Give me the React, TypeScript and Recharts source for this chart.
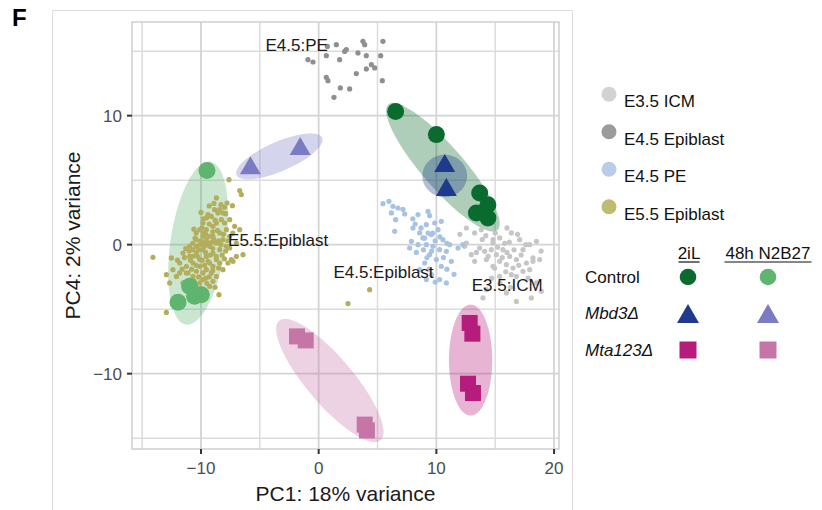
import * as RC from "recharts";
import { ScatterChart, Scatter, XAxis, YAxis, CartesianGrid, ReferenceArea, Label } from "recharts";

const FONT = '"Liberation Sans", Arial, sans-serif';

const X_DOMAIN: [number, number] = [-15.86, 20.42];
const Y_DOMAIN: [number, number] = [-15.84, 17.26];
const xTicks = [-10, 0, 10, 20];
const yTicks = [-10, 0, 10];
const xMinor = [-15, -5, 5, 15];
const yMinor = [-15, -5, 5, 15];

// embryo reference cells (small dots)
const icmE35 = [
  [12.55, 1.29], [13.25, 0.91], [13.82, 1.16], [14.53, 1.29], [14.81, 0.13], [15.38, 0.52],
  [16.37, 0.91], [17.08, 0.39], [17.93, 0], [18.5, 0.26], [13.68, -0.26], [14.1, -0.52],
  [14.67, -0.39], [15.1, -0.78], [15.66, -0.39], [16.23, -0.91], [16.8, -1.16], [17.65, -1.42],
  [18.21, -1.03], [14.25, -1.16], [15.38, -1.29], [15.95, -1.55], [16.51, -1.81], [17.36, -2.07],
  [13.25, -1.29], [12.97, -0.78], [12.4, -0.13], [14.95, -1.81], [16.8, -2.46], [12.55, 0.13],
  [14.81, 0.39], [17.93, -1.94], [18.5, -2.97], [18.92, -3.62], [16.8, -4.4], [18.07, -4.13],
  [13.96, -4.13], [14.25, -3.49], [15.95, -3.74], [18.21, -1.29], [18.78, -1.16], [17.36, -0.39],
  [16.37, -2.33], [15.38, -2.46], [14.81, -1.68], [15.8, 0.1], [16.0, -0.6], [15.2, -0.2],
  [16.6, -0.4], [14.4, -0.9], [17.2, -0.8], [15.6, -1.0], [16.9, 0.8], [13.9, 0.4], [12.0, 0.8],
  [15.0, 0.9], [16.2, 0.2], [17.6, 0.0], [17.0, -1.6], [15.4, -3.0], [16.3, -3.3], [14.2, 0.7],
  [13.4, -0.6], [15.9, -2.1], [17.8, -2.6], [18.9, -0.5], [14.7, -2.6], [16.0, 1.3],
];
const epiE45 = [
  [0.74, 15.37], [1.5, 15.5], [2.35, 15.12], [3.76, 15.76], [5.46, 15.76], [-0.91, 14.34],
  [-0.48, 14.16], [0.65, 14.65], [1.78, 14.34], [2.21, 14.98], [3.34, 14.86], [4.05, 14.65],
  [5.27, 14.65], [3.91, 15.5], [3.2, 13.26], [4.05, 13.62], [4.48, 13.95], [4.76, 13.7],
  [5.41, 12.71], [0.65, 12.97], [0.79, 12.71], [1.84, 12.15], [2.63, 12.07], [1.3, 11.42],
];
const peE45 = [
  [5.46, 3.18], [5.97, 3.36], [6.31, 2.97], [6.74, 2.84], [7.16, 2.74], [6.18, 2.46], [6.54, 1.94],
  [7.31, 2.38], [8.44, 2.33], [9.29, 2.58], [9.43, 2.25], [9.15, 1.55], [8.01, 1.29], [6.46, 1.03],
  [8.58, 0.91], [8.86, 0.52], [9.58, 0.78], [10.14, 1.16], [10.56, 0.39], [7.88, 0.26], [8.44, 0],
  [9.15, 0], [9.71, -0.13], [10.28, -0.39], [10.85, -0.52], [9.43, -0.78], [10.0, -1.16],
  [9.01, -1.42], [8.58, -1.94], [10.42, -1.68], [11.27, -1.29], [9.58, -2.33], [10.28, -2.71],
  [10.85, -2.97], [9.15, -2.71], [11.84, -0.26], [12.26, 0], [11.13, 0], [7.73, -0.26],
  [9.86, 1.68], [10.42, 1.81], [8.9, -0.4], [9.9, 0.3], [10.6, -1.0], [9.2, -1.0], [9.7, 0.9],
  [8.2, 1.6], [10.3, 0.6], [9.4, -1.9], [10.9, -1.9], [8.0, 2.0], [9.0, 0.5], [8.3, -0.6],
  [9.6, -0.5], [10.9, 0.1], [9.3, 0.9], [8.7, 1.3], [11.5, -2.3], [9.9, -2.9],
];
const epiE55 = [
  [-7.62, 5.04], [-6.71, 4.19], [-6.57, 3.88], [-7.79, 3.23], [-7.33, 3.02], [-8.69, 3.62],
  [-8.41, 2.71], [-8.13, 2.46], [-7.56, 1.94], [-7.14, 1.42], [-6.71, 1.16], [-6.43, -0.78],
  [-6.99, -0.91], [-7.42, -1.16], [-14.08, -0.98], [-12.94, -5.25], [-12.51, -1.03],
  [-12.94, -2.33], [-12.38, -1.94], [-11.81, -1.42], [-11.53, -0.65], [-10.96, -0.13],
  [-10.39, 0.39], [-10.11, 1.16], [-9.83, 1.68], [-9.54, 2.07], [-9.41, 2.33], [-9.12, 2.19],
  [-8.84, 2.71], [-8.56, 2.46], [-8.27, 1.94], [-7.99, 1.68], [-8.47, -3.88], [-9.26, -3.23],
  [-9.83, -2.71], [-10.68, -2.46], [-11.24, -2.19], [-12.09, -2.46], [-11.53, -2.97],
  [-8.69, -2.46], [-8.13, -1.94], [-7.71, -1.42], [-8.41, -1.42], [-8.98, -1.68], [-9.54, -1.94],
  [-10.11, -1.68], [-10.68, -1.42], [-10.96, -0.91], [-10.39, -0.65], [-9.83, -0.39],
  [-9.26, -0.13], [-8.69, 0.13], [-8.13, 0.39], [-7.56, 0.65], [-7.84, 1.16], [-8.41, 0.91],
  [-8.98, 0.65], [-9.54, 0.39], [-10.11, 0], [-10.68, -0.39], [-8.98, 1.42], [-9.54, 1.16],
  [-8.69, 1.68], [-9.26, 0.65], [-9.83, 0.65], [-10.39, -0.13], [-9.54, -0.91], [-8.98, -0.65],
  [-8.41, -0.39], [-7.84, -0.13], [-10.11, -1.16], [-9.26, -1.42], [-8.69, -1.16],
  [-11.24, -1.68], [-11.81, -2.19], [-10.39, -2.07], [-9.83, -2.19], [-9.12, -2.19],
  [-10.11, -2.97], [-8.98, -2.84], [-12.66, -2.97], [4.33, -3.49], [2.49, -4.57], [-7.28, -1.29],
  [-7.56, -0.26], [-6.99, 0.13], [-9.7, -0.1], [-9.1, 0.2], [-9.9, -1.2], [-9.4, -1.3],
  [-10.3, -0.9], [-8.7, -0.9], [-9.0, 1.0], [-9.6, 0.8], [-10.5, 0.5], [-10.8, -1.9], [-9.3, -2.5],
  [-8.2, -0.8], [-8.6, 1.1], [-9.9, 1.3], [-10.2, -2.5], [-11.0, -2.8], [-8.3, 3.1], [-7.9, 2.4],
  [-11.3, -0.3], [-10.0, 2.5], [-9.3, 3.0], [-10.7, -0.9], [-10.2, -0.4], [-9.6, -0.6],
  [-9.0, -0.3], [-8.5, 0.3], [-8.9, 0.4], [-9.4, 0.1], [-10.0, 0.3], [-10.4, 0.9], [-9.8, 0.1],
  [-9.2, -0.8], [-9.7, -1.6], [-10.4, -1.6], [-10.9, -1.2], [-11.4, -1.0], [-11.1, -2.2],
  [-10.6, -2.8], [-9.6, -2.6], [-9.0, -2.0], [-8.5, -1.8], [-8.0, -1.1], [-7.9, -0.5], [-8.3, 0.0],
  [-8.1, 0.8], [-8.8, 1.9], [-9.3, 1.6], [-9.8, 0.9], [-10.7, 0.1], [-11.0, -0.5], [-11.6, -1.9],
  [-12.0, -1.2], [-10.1, -3.4], [-9.5, -3.0], [-8.8, -3.3], [-7.7, 0.3], [-7.3, 0.9], [-8.0, 2.9],
  [-8.9, 3.2], [-9.8, 2.0], [-10.6, 1.2],
];

// ES cell samples
const control2iL = [[6.54, 10.33], [10.0, 8.53], [13.68, 4.0], [14.38, 3.1], [13.4, 2.45], [14.38, 2.07]];
const control48h = [[-9.49, 5.74], [-10.96, -3.23], [-11.95, -4.47], [-9.97, -3.88], [-10.54, -4.0]];
const mbd3_2iL = [[10.71, 6.33], [10.85, 4.46]];
const mbd3_48h = [[-5.8, 6.15], [-1.57, 7.65]];
const mta123_2iL = [[12.83, -6.07], [13.06, -6.9], [12.69, -10.78], [13.11, -11.5]];
const mta123_48h = [[-1.84, -7.11], [-1.1, -7.42], [3.91, -13.95], [4.1, -14.4]];

// group ellipses: centre, half major axis vector, half minor length (data units)
const ellipses = [
  { group: "control48h", cx: -10.24, cy: 0.12, ux: 1.06, uy: 6.31, b: 2.35 },
  { group: "mbd3_48h", cx: -3.34, cy: 6.84, ux: 3.65, uy: 1.42, b: 1.15 },
  { group: "control2iL", cx: 10.56, cy: 6.0, ux: 4.67, uy: -4.84, b: 1.7 },
  { group: "mbd3_2iL", cx: 10.71, cy: 5.33, ux: 1.9, uy: 0, b: 1.64 },
  { group: "mta123_48h", cx: 0.95, cy: -10.53, ux: 4.35, uy: -4.6, b: 1.9 },
  { group: "mta123_2iL", cx: 12.91, cy: -8.95, ux: 0, uy: 4.3, b: 1.84 },
];

const plotLabels = [
  { x: -1.87, y: 15.43, text: "E4.5:PE" },
  { x: -3.44, y: 0.31, text: "E5.5:Epiblast" },
  { x: 5.51, y: -2.17, text: "E4.5:Epiblast" },
  { x: 16.02, y: -3.18, text: "E3.5:ICM" },
];

const embryoLegend = ["E3.5 ICM", "E4.5 Epiblast", "E4.5 PE", "E5.5 Epiblast"];
const conditionLegend = ["2iL", "48h N2B27"];
const genotypeLegend = ["Control", "Mbd3Δ", "Mta123Δ"];

const colors: Record<string, string> = {
  icm: "#c6c6c6",
  epi45: "#8f8f8f",
  pe: "#a7c3e4",
  epi55: "#b4ae5c",
  control2iL: "#0a6b2e",
  control48h: "#5fb46f",
  mbd3_2iL: "#1f3a8c",
  mbd3_48h: "#7b7bc4",
  mta123_2iL: "#b51c7c",
  mta123_48h: "#c576a6",
};
const legendEmbryoColors = ["#d2d2d2", "#9c9c9c", "#b7cde9", "#c0bb73"];

const toPts = (a: number[][]) => a.map(([x, y]) => ({ x, y }));

const dot = (r: number, fill: string) => (p: any) => <circle cx={p.cx} cy={p.cy} r={r} fill={fill} />;
const tri = (fill: string, w = 21, h = 18) => (p: any) => (
  <polygon
    points={`${p.cx},${p.cy - h / 2} ${p.cx - w / 2},${p.cy + h / 2} ${p.cx + w / 2},${p.cy + h / 2}`}
    fill={fill}
  />
);
const sq = (fill: string, s = 16) => (p: any) => <rect x={p.cx - s / 2} y={p.cy - s / 2} width={s} height={s} fill={fill} />;

function Ellipses() {
  const hook = (RC as any).usePlotArea;
  const area = hook ? hook() : null;
  if (!area) return null;
  const sx = (v: number) => area.x + ((v - X_DOMAIN[0]) / (X_DOMAIN[1] - X_DOMAIN[0])) * area.width;
  const sy = (v: number) => area.y + ((Y_DOMAIN[1] - v) / (Y_DOMAIN[1] - Y_DOMAIN[0])) * area.height;
  return (
    <g>
      {ellipses.map((e) => {
        const len = Math.hypot(e.ux, e.uy);
        const vx = (-e.uy / len) * e.b;
        const vy = (e.ux / len) * e.b;
        let d = "";
        for (let i = 0; i <= 72; i++) {
          const t = (i / 72) * Math.PI * 2;
          const x = e.cx + e.ux * Math.cos(t) + vx * Math.sin(t);
          const y = e.cy + e.uy * Math.cos(t) + vy * Math.sin(t);
          d += `${i === 0 ? "M" : "L"}${sx(x).toFixed(2)},${sy(y).toFixed(2)}`;
        }
        return <path key={e.group} d={d + "Z"} fill={colors[e.group]} fillOpacity={0.33} stroke="none" />;
      })}
    </g>
  );
}

const minus = (v: number) => (v < 0 ? `\u2212${-v}` : `${v}`);

function LegendPanel() {
  const rows = [277, 313.5, 350];
  const cols = [688, 768];
  const groups = [
    ["control2iL", "control48h"],
    ["mbd3_2iL", "mbd3_48h"],
    ["mta123_2iL", "mta123_48h"],
  ];
  return (
    <svg width={822} height={510} style={{ position: "absolute", left: 0, top: 0, pointerEvents: "none" }} fontFamily={FONT}>
      <text x={12} y={26} fontSize={24} fontWeight="bold" fill="#000">F</text>
      {embryoLegend.map((name, i) => (
        <g key={name}>
          <circle cx={609} cy={94.3 + i * 37.5} r={7.5} fill={legendEmbryoColors[i]} />
          <text x={624} y={101.8 + i * 37.5} fontSize={17} dominantBaseline="central" fill="#111">{name}</text>
        </g>
      ))}
      {conditionLegend.map((c, i) => {
        const w = i === 0 ? 21 : 87;
        const x = cols[i] + (i === 0 ? 1 : 0);
        return (
          <g key={c}>
            <text x={x} y={253} fontSize={17} textAnchor="middle" dominantBaseline="central" fill="#111">{c}</text>
            <line x1={x - w / 2} x2={x + w / 2} y1={262} y2={262} stroke="#111" strokeWidth={1.2} />
          </g>
        );
      })}
      {genotypeLegend.map((g, r) => (
        <g key={g}>
          <text x={585} y={rows[r]} fontSize={17} fontStyle={r === 0 ? "normal" : "italic"} dominantBaseline="central" fill="#111">{g}</text>
          {groups[r].map((key, c) =>
            r === 0 ? (
              <circle key={key} cx={cols[c]} cy={rows[r]} r={8.3} fill={colors[key]} />
            ) : r === 1 ? (
              <polygon key={key} points={`${cols[c]},${rows[r] - 9.5} ${cols[c] - 11},${rows[r] + 9.5} ${cols[c] + 11},${rows[r] + 9.5}`} fill={colors[key]} />
            ) : (
              <rect key={key} x={cols[c] - 8.5} y={rows[r] - 8.5} width={17} height={17} fill={colors[key]} />
            )
          )}
        </g>
      ))}
    </svg>
  );
}

export default function App() {
  return (
    <div style={{ position: "absolute", left: 0, top: 0, width: 822, height: 510, background: "#fff", fontFamily: FONT, overflow: "hidden" }}>
      <div style={{ position: "absolute", left: 52, top: 10, width: 519, height: 520, border: "1.5px solid #dedede" }} />
      <div style={{ position: "absolute", left: 0, top: 0 }}>
        <ScatterChart width={822} height={510} margin={{ top: 22, right: 263, bottom: 31, left: 92 }} style={{ fontFamily: FONT }}>
          <CartesianGrid verticalValues={xMinor} horizontalValues={yMinor} stroke="#dcdcdc" strokeWidth={1.5} fill="none" />
          <CartesianGrid verticalValues={xTicks} horizontalValues={yTicks} stroke="#d4d4d4" strokeWidth={1.8} fill="none" />
          <XAxis
            type="number"
            dataKey="x"
            domain={X_DOMAIN}
            ticks={xTicks}
            allowDataOverflow
            height={30}
            axisLine={false}
            tickSize={5}
            tickMargin={8}
            tickLine={{ stroke: "#333", strokeWidth: 2 }}
            tick={{ fill: "#4d4d4d", fontSize: 17 }}
            tickFormatter={minus}
          >
            <Label
              content={(p: any) => (
                <text x={p.viewBox.x + p.viewBox.width / 2} y={493} fontSize={21} textAnchor="middle" dominantBaseline="central" fill="#1a1a1a">
                  PC1: 18% variance
                </text>
              )}
            />
          </XAxis>
          <YAxis
            type="number"
            dataKey="y"
            domain={Y_DOMAIN}
            ticks={yTicks}
            allowDataOverflow
            width={40}
            axisLine={false}
            tickSize={5}
            tickMargin={5}
            tickLine={{ stroke: "#333", strokeWidth: 2 }}
            tick={{ fill: "#4d4d4d", fontSize: 17 }}
            tickFormatter={minus}
          >
            <Label
              content={(p: any) => {
                const cx = 72.5;
                const cy = p.viewBox.y + p.viewBox.height / 2;
                return (
                  <text x={cx} y={cy} fontSize={21} textAnchor="middle" dominantBaseline="central" fill="#1a1a1a" transform={`rotate(-90 ${cx} ${cy})`}>
                    PC4: 2% variance
                  </text>
                );
              }}
            />
          </YAxis>
          <ReferenceArea x1={X_DOMAIN[0]} x2={X_DOMAIN[1]} y1={Y_DOMAIN[0]} y2={Y_DOMAIN[1]} fill="none" stroke="#d0d0d0" strokeWidth={1.5} />
          <Ellipses />
          <Scatter data={toPts(icmE35)} shape={dot(2.6, colors.icm)} isAnimationActive={false} />
          <Scatter data={toPts(epiE45)} shape={dot(2.6, colors.epi45)} isAnimationActive={false} />
          <Scatter data={toPts(peE45)} shape={dot(2.6, colors.pe)} isAnimationActive={false} />
          <Scatter data={toPts(epiE55)} shape={dot(2.6, colors.epi55)} isAnimationActive={false} />
          <Scatter data={toPts(control2iL)} shape={dot(8.5, colors.control2iL)} isAnimationActive={false} />
          <Scatter data={toPts(control48h)} shape={dot(8.5, colors.control48h)} isAnimationActive={false} />
          <Scatter data={toPts(mbd3_2iL)} shape={tri(colors.mbd3_2iL)} isAnimationActive={false} />
          <Scatter data={toPts(mbd3_48h)} shape={tri(colors.mbd3_48h)} isAnimationActive={false} />
          <Scatter data={toPts(mta123_2iL)} shape={sq(colors.mta123_2iL)} isAnimationActive={false} />
          <Scatter data={toPts(mta123_48h)} shape={sq(colors.mta123_48h)} isAnimationActive={false} />
          <Scatter
            data={plotLabels}
            isAnimationActive={false}
            shape={(p: any) => (
              <text x={p.cx} y={p.cy} fontSize={17} textAnchor="middle" dominantBaseline="central" fill="#1a1a1a" fontFamily={FONT}>
                {p.payload.text}
              </text>
            )}
          />
        </ScatterChart>
      </div>
      <LegendPanel />
    </div>
  );
}
